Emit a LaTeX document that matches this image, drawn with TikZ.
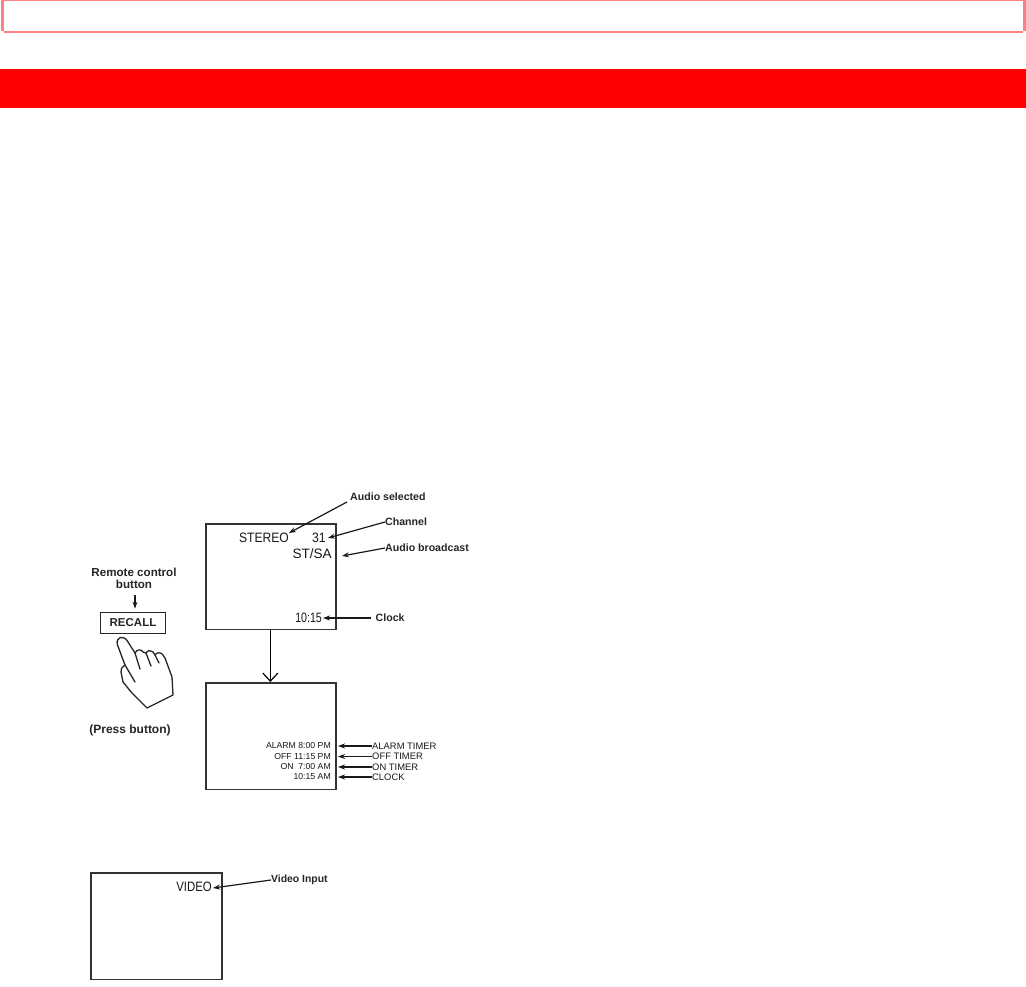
\documentclass[tikz,border=0pt]{standalone}
\usepackage{fontspec}
\setmainfont{Liberation Sans}
\usetikzlibrary{arrows.meta}
\tikzset{
  x=1pt,y=-1pt,
  screen/.style={draw=black!80,line width=1.7pt,fill=white,inner sep=0pt,anchor=north west},
  lab/.style={font=\fontsize{10.6}{11}\selectfont\bfseries,inner sep=0pt,text=black!85,anchor=west},
  scr/.style={font=\fontsize{13.6}{14}\selectfont,inner sep=0pt,text=black!90},
  tim/.style={font=\fontsize{8.7}{9}\selectfont,inner sep=0pt,text=black!90},
  timl/.style={font=\fontsize{9.4}{10}\selectfont,inner sep=0pt,text=black!90,anchor=west},
  ptr/.style={draw=black!90,line width=1.2pt,-{Stealth[length=7pt,width=5pt]}},
  open/.style={draw=black,line width=1.2pt,-{Straight Barb[length=8pt,width=15pt]}},
  handline/.style={draw=black!85,line width=1.3pt,line join=round,line cap=round}
}
\definecolor{framepink}{RGB}{255,128,128}
\begin{document}
\begin{tikzpicture}
\useasboundingbox (0,0) rectangle (1026,987);
\fill[white] (0,0) rectangle (1026,987);
% top frame
\fill[framepink] (1,0) rectangle (4,31);
\fill[framepink] (1,0) rectangle (1026,1);
\fill[framepink] (4,31) rectangle (1023,33);
\fill[framepink] (1023,0) rectangle (1026,31);
% red band
\fill[red] (0,69) rectangle (1026,108);
% screens
\node[screen,minimum width=130pt,minimum height=105.5pt] (s1) at (205,523) {};
\node[screen,minimum width=130pt,minimum height=106.5pt] (s2) at (205,682) {};
\node[screen,minimum width=131pt,minimum height=106.5pt] (s3) at (90,872) {};
\draw[open] ([xshift=-.5pt]s1.south) -- ([xshift=-.5pt]s2.north);
% screen 1 texts
\node[scr,anchor=east] (stereo) at (289,538) {\scalebox{0.89}[1]{STEREO}};
\node[scr,anchor=east] (ch) at (326,538) {\scalebox{0.9}[1]{31}};
\node[scr,anchor=east] (stsa) at (332,554) {ST/SA};
\node[scr,anchor=east] (clk) at (322,618) {\scalebox{0.78}[1]{10:15}};
\node[lab] (laudio) at (350,497) {Audio selected};
\node[lab] (lch) at (385,522) {Channel};
\node[lab] (lbroad) at (385,548) {Audio broadcast};
\node[lab] (lclk) at (375.5,618) {Clock};
\draw[ptr] (laudio.west)+(-3,5) -- (stereo.north east);
\draw[ptr] (lch.west) -- ([xshift=2pt]ch.east);
\draw[ptr] (lbroad.west) -- ([xshift=10pt,yshift=-2pt]stsa.east);
\draw[ptr,shorten <=5pt] (lclk.west) -- ([xshift=1pt]clk.east);
% screen 2 texts
\node[tim,anchor=east] (t1) at (331,746) {ALARM 8:00 PM};
\node[tim,anchor=east] (t2) at (331,756.5) {OFF 11:15 PM};
\node[tim,anchor=east] (t3) at (331,767) {ON \ 7:00 AM};
\node[tim,anchor=east] (t4) at (331,777) {10:15 AM};
\node[timl] (l1) at (372,746) {ALARM TIMER};
\node[timl] (l2) at (372,756.5) {OFF TIMER};
\node[timl] (l3) at (372,767) {ON TIMER};
\node[timl] (l4) at (372,777) {CLOCK};
\foreach \i in {1,2,3,4}{
  \draw[ptr] (l\i.west) -- ([xshift=7pt]t\i.east);
}
% screen 3
\node[scr,anchor=east] (vid) at (212,887) {\scalebox{0.84}[1]{VIDEO}};
\node[lab,font=\fontsize{10.4}{11}\selectfont\bfseries] (lvid) at (271,880) {Video Input};
\draw[ptr] (lvid.west) -- ([xshift=1pt,yshift=-1pt]vid.east);
% left
\node[lab,anchor=center,font=\fontsize{11.6}{12}\selectfont\bfseries] (rc) at (134,572) {Remote control};
\node[lab,anchor=center,font=\fontsize{11.6}{12}\selectfont\bfseries] (bt) at (134,584) {button};
\node[draw=black!85,line width=1.7pt,minimum width=65pt,minimum height=21pt,inner sep=0pt,font=\fontsize{11.5}{12}\selectfont\bfseries,text=black!85] (rec) at (133,623) {RECALL};
\coordinate (rcs) at (135,595);
\draw[ptr,line width=1.4pt,shorten >=3pt] (rcs) -- (rcs |- rec.north);
\node[font=\fontsize{12}{13}\selectfont\bfseries,inner sep=0pt,text=black!85] (pb) at (130,730) {(Press button)};
% hand
\draw[handline] (125,665) -- (117.5,645)
  .. controls (115,637) and (124,634) .. (128,642)
  -- (135,653) .. controls (137,649) and (141,649) .. (143,652)
  -- (146,653) .. controls (148,650) and (151,650) .. (153,652)
  -- (155,655) .. controls (157,652) and (161,652) .. (163,655)
  -- (165,658) -- (172,677) -- (173,695) -- (147,708)
  -- (132,693) -- (123,682) -- (121,672)
  .. controls (121,668) and (123,666) .. (125,665)
  -- (135,682);
\draw[handline] (135,653) -- (140,669);
\draw[handline] (146,653) -- (151,666);
\draw[handline] (155,655) -- (159,663);
\end{tikzpicture}
\end{document}
